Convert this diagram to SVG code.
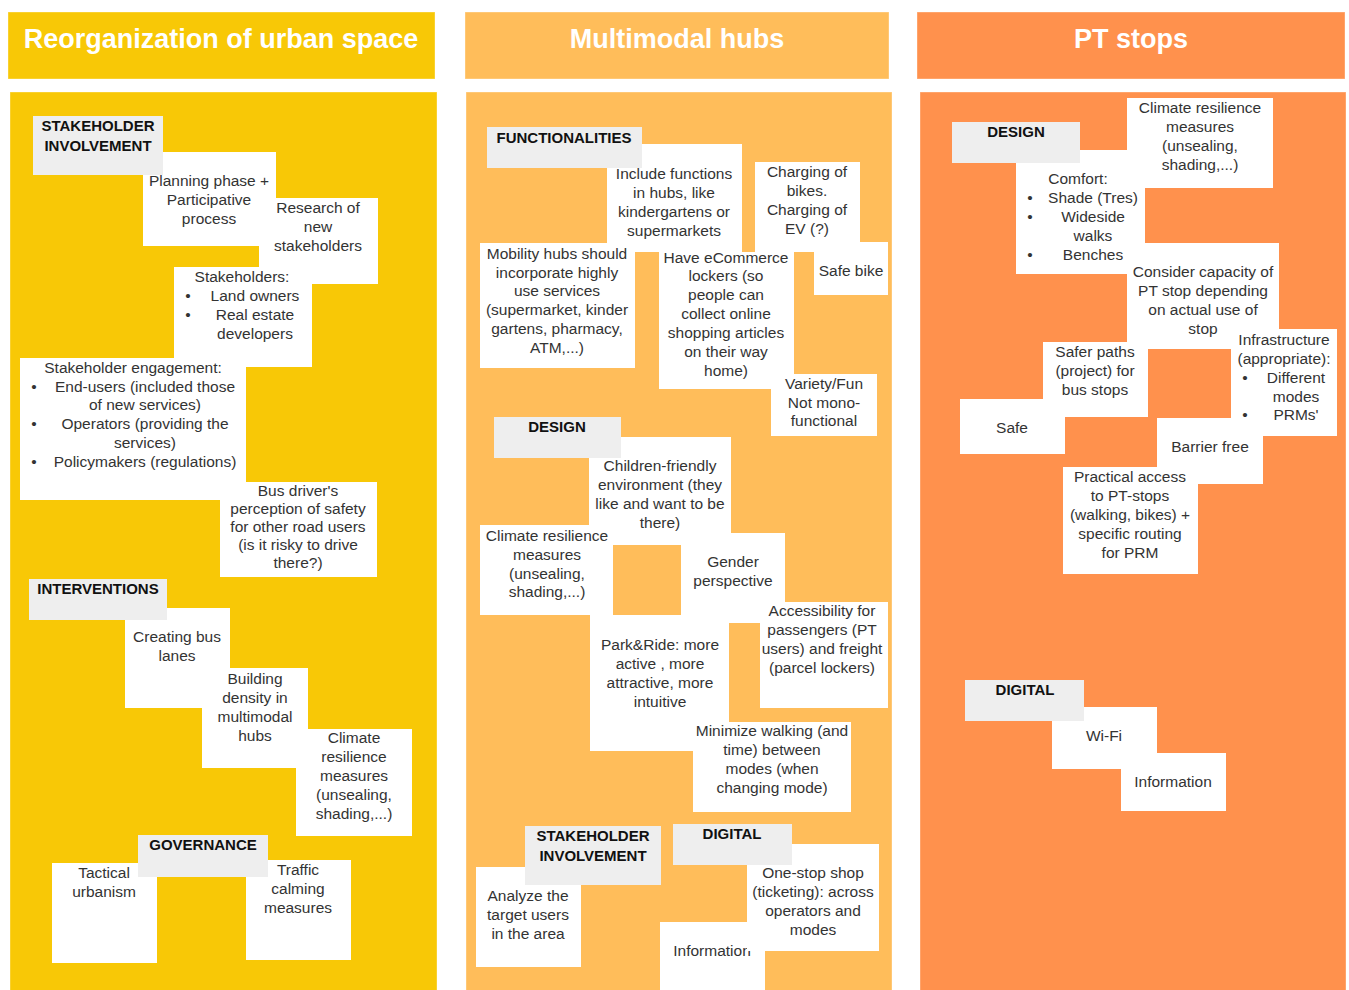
<svg xmlns="http://www.w3.org/2000/svg" width="1349" height="990" viewBox="0 0 1349 990">
<style>
.bg{fill:#ffffff}
.c1{fill:#F8C806}
.c2{fill:#FFBD5A}
.c3{fill:#FF914D}
.edge{stroke:#ffffff;stroke-opacity:0.35;stroke-width:1}
.n{fill:#ffffff}
.g{fill:#EEEEEE}
.h{font-family:"Liberation Sans",Arial,sans-serif;font-weight:bold;font-size:27px;fill:#ffffff;text-anchor:middle}
.t{font-family:"Liberation Sans",Arial,sans-serif;font-size:15.5px;fill:#333333;text-anchor:middle}
.b{font-family:"Liberation Sans",Arial,sans-serif;font-weight:bold;font-size:15px;fill:#111111;text-anchor:middle}
</style>
<rect class="bg" x="0" y="0" width="1349" height="990"/>

<g id="column-urban-space">
  <rect class="c1 edge" x="8" y="12" width="427" height="67"/>
  <text class="h" x="221" y="48">Reorganization of urban space</text>
  <rect class="c1 edge" x="10" y="92" width="427" height="900"/>
</g>
<g id="column-multimodal-hubs">
  <rect class="c2 edge" x="465" y="12" width="424" height="67"/>
  <text class="h" x="677" y="48">Multimodal hubs</text>
  <rect class="c2 edge" x="466" y="92" width="426" height="900"/>
</g>
<g id="column-pt-stops">
  <rect class="c3 edge" x="917" y="12" width="428" height="67"/>
  <text class="h" x="1131" y="48">PT stops</text>
  <rect class="c3 edge" x="920" y="92" width="426" height="900"/>
</g>

<g id="connectors"></g>

<!-- Column 1 -->
<g id="n-planning">
  <rect class="n" x="143" y="152" width="133" height="94"/>
  <text class="t" x="209" y="186">Planning phase +</text>
  <text class="t" x="209" y="205">Participative</text>
  <text class="t" x="209" y="224">process</text>
</g>
<g id="l-stakeholder-involvement-1">
  <rect class="g" x="33" y="116" width="130" height="59"/>
  <text class="b" x="98" y="131">STAKEHOLDER</text>
  <text class="b" x="98" y="151">INVOLVEMENT</text>
</g>
<g id="n-research">
  <rect class="n" x="259" y="198" width="119" height="86"/>
  <text class="t" x="318" y="213">Research of</text>
  <text class="t" x="318" y="232">new</text>
  <text class="t" x="318" y="251">stakeholders</text>
</g>
<g id="n-stakeholders">
  <rect class="n" x="174" y="267" width="138" height="100"/>
  <text class="t" x="242" y="282">Stakeholders:</text>
  <text class="t" x="188" y="301">•</text>
  <text class="t" x="255" y="301">Land owners</text>
  <text class="t" x="188" y="320">•</text>
  <text class="t" x="255" y="320">Real estate</text>
  <text class="t" x="255" y="339">developers</text>
</g>
<g id="n-engagement">
  <rect class="n" x="20" y="358" width="226" height="142"/>
  <text class="t" x="133" y="373">Stakeholder engagement:</text>
  <text class="t" x="34" y="392">•</text>
  <text class="t" x="145" y="392">End-users (included those</text>
  <text class="t" x="145" y="410">of new services)</text>
  <text class="t" x="34" y="429">•</text>
  <text class="t" x="145" y="429">Operators (providing the</text>
  <text class="t" x="145" y="448">services)</text>
  <text class="t" x="34" y="467">•</text>
  <text class="t" x="145" y="467">Policymakers (regulations)</text>
</g>
<g id="n-busdriver">
  <rect class="n" x="220" y="482" width="157" height="95"/>
  <text class="t" x="298" y="496">Bus driver's</text>
  <text class="t" x="298" y="514">perception of safety</text>
  <text class="t" x="298" y="532">for other road users</text>
  <text class="t" x="298" y="550">(is it risky to drive</text>
  <text class="t" x="298" y="568">there?)</text>
</g>
<g id="n-buslanes">
  <rect class="n" x="125" y="608" width="105" height="100"/>
  <text class="t" x="177" y="642">Creating bus</text>
  <text class="t" x="177" y="661">lanes</text>
</g>
<g id="l-interventions">
  <rect class="g" x="29" y="579" width="138" height="41"/>
  <text class="b" x="98" y="594">INTERVENTIONS</text>
</g>
<g id="n-density">
  <rect class="n" x="202" y="668" width="106" height="100"/>
  <text class="t" x="255" y="684">Building</text>
  <text class="t" x="255" y="703">density in</text>
  <text class="t" x="255" y="722">multimodal</text>
  <text class="t" x="255" y="741">hubs</text>
</g>
<g id="n-climate-1">
  <rect class="n" x="296" y="729" width="116" height="107"/>
  <text class="t" x="354" y="743">Climate</text>
  <text class="t" x="354" y="762">resilience</text>
  <text class="t" x="354" y="781">measures</text>
  <text class="t" x="354" y="800">(unsealing,</text>
  <text class="t" x="354" y="819">shading,...)</text>
</g>
<g id="n-tactical">
  <rect class="n" x="52" y="863" width="105" height="100"/>
  <text class="t" x="104" y="878">Tactical</text>
  <text class="t" x="104" y="897">urbanism</text>
</g>
<g id="n-traffic">
  <rect class="n" x="246" y="860" width="105" height="100"/>
  <text class="t" x="298" y="875">Traffic</text>
  <text class="t" x="298" y="894">calming</text>
  <text class="t" x="298" y="913">measures</text>
</g>
<g id="l-governance">
  <rect class="g" x="138" y="835" width="130" height="42"/>
  <text class="b" x="203" y="850">GOVERNANCE</text>
</g>

<!-- Column 2 -->
<g id="n-include">
  <rect class="n" x="607" y="144" width="135" height="108"/>
  <text class="t" x="674" y="179">Include functions</text>
  <text class="t" x="674" y="198">in hubs, like</text>
  <text class="t" x="674" y="217">kindergartens or</text>
  <text class="t" x="674" y="236">supermarkets</text>
</g>
<g id="l-functionalities">
  <rect class="g" x="487" y="127" width="155" height="41"/>
  <text class="b" x="564" y="143">FUNCTIONALITIES</text>
</g>
<g id="n-charging">
  <rect class="n" x="755" y="162" width="105" height="90"/>
  <text class="t" x="807" y="177">Charging of</text>
  <text class="t" x="807" y="196">bikes.</text>
  <text class="t" x="807" y="215">Charging of</text>
  <text class="t" x="807" y="234">EV (?)</text>
</g>
<g id="n-safebike">
  <rect class="n" x="814" y="242" width="74" height="53"/>
  <text class="t" x="851" y="276">Safe bike</text>
</g>
<g id="n-mobility">
  <rect class="n" x="480" y="243" width="155" height="125"/>
  <text class="t" x="557" y="259">Mobility hubs should</text>
  <text class="t" x="557" y="278">incorporate highly</text>
  <text class="t" x="557" y="296">use services</text>
  <text class="t" x="557" y="315">(supermarket, kinder</text>
  <text class="t" x="557" y="334">gartens, pharmacy,</text>
  <text class="t" x="557" y="353">ATM,...)</text>
</g>
<g id="n-ecommerce">
  <rect class="n" x="659" y="252" width="135" height="137"/>
  <text class="t" x="726" y="263">Have eCommerce</text>
  <text class="t" x="726" y="281">lockers (so</text>
  <text class="t" x="726" y="300">people can</text>
  <text class="t" x="726" y="319">collect online</text>
  <text class="t" x="726" y="338">shopping articles</text>
  <text class="t" x="726" y="357">on their way</text>
  <text class="t" x="726" y="376">home)</text>
</g>
<g id="n-variety">
  <rect class="n" x="771" y="374" width="106" height="62"/>
  <text class="t" x="824" y="389">Variety/Fun</text>
  <text class="t" x="824" y="408">Not mono-</text>
  <text class="t" x="824" y="426">functional</text>
</g>
<g id="n-children">
  <rect class="n" x="589" y="437" width="142" height="108"/>
  <text class="t" x="660" y="471">Children-friendly</text>
  <text class="t" x="660" y="490">environment (they</text>
  <text class="t" x="660" y="509">like and want to be</text>
  <text class="t" x="660" y="528">there)</text>
</g>
<g id="l-design-2">
  <rect class="g" x="494" y="417" width="127" height="41"/>
  <text class="b" x="557" y="432">DESIGN</text>
</g>
<g id="n-climate-2">
  <rect class="n" x="480" y="525" width="133" height="90"/>
  <text class="t" x="547" y="541">Climate resilience</text>
  <text class="t" x="547" y="560">measures</text>
  <text class="t" x="547" y="579">(unsealing,</text>
  <text class="t" x="547" y="597">shading,...)</text>
</g>
<g id="n-gender">
  <rect class="n" x="681" y="533" width="104" height="90"/>
  <text class="t" x="733" y="567">Gender</text>
  <text class="t" x="733" y="586">perspective</text>
</g>
<g id="n-parkride">
  <rect class="n" x="590" y="615" width="139" height="136"/>
  <text class="t" x="660" y="650">Park&amp;Ride: more</text>
  <text class="t" x="660" y="669">active , more</text>
  <text class="t" x="660" y="688">attractive, more</text>
  <text class="t" x="660" y="707">intuitive</text>
</g>
<g id="n-accessibility">
  <rect class="n" x="760" y="602" width="128" height="106"/>
  <text class="t" x="822" y="616">Accessibility for</text>
  <text class="t" x="822" y="635">passengers (PT</text>
  <text class="t" x="822" y="654">users) and freight</text>
  <text class="t" x="822" y="673">(parcel lockers)</text>
</g>
<g id="n-minimize">
  <rect class="n" x="693" y="722" width="158" height="90"/>
  <text class="t" x="772" y="736">Minimize walking (and</text>
  <text class="t" x="772" y="755">time) between</text>
  <text class="t" x="772" y="774">modes (when</text>
  <text class="t" x="772" y="793">changing mode)</text>
</g>
<g id="n-analyze">
  <rect class="n" x="476" y="867" width="105" height="100"/>
  <text class="t" x="528" y="901">Analyze the</text>
  <text class="t" x="528" y="920">target users</text>
  <text class="t" x="528" y="939">in the area</text>
</g>
<g id="l-stakeholder-involvement-2">
  <rect class="g" x="525" y="826" width="136" height="59"/>
  <text class="b" x="593" y="841">STAKEHOLDER</text>
  <text class="b" x="593" y="861">INVOLVEMENT</text>
</g>
<g id="n-information-2">
  <rect class="n" x="660" y="922" width="105" height="70"/>
  <text class="t" x="712" y="956">Information</text>
</g>
<g id="n-onestop">
  <rect class="n" x="747" y="844" width="132" height="107"/>
  <text class="t" x="813" y="878">One-stop shop</text>
  <text class="t" x="813" y="897">(ticketing): across</text>
  <text class="t" x="813" y="916">operators and</text>
  <text class="t" x="813" y="935">modes</text>
</g>
<g id="l-digital-2">
  <rect class="g" x="673" y="824" width="119" height="41"/>
  <text class="b" x="732" y="839">DIGITAL</text>
</g>

<!-- Column 3 -->
<g id="n-comfort">
  <rect class="n" x="1016" y="150" width="129" height="124"/>
  <text class="t" x="1078" y="184">Comfort:</text>
  <text class="t" x="1030" y="203">•</text>
  <text class="t" x="1093" y="203">Shade (Tres)</text>
  <text class="t" x="1030" y="222">•</text>
  <text class="t" x="1093" y="222">Wideside</text>
  <text class="t" x="1093" y="241">walks</text>
  <text class="t" x="1030" y="260">•</text>
  <text class="t" x="1093" y="260">Benches</text>
</g>
<g id="n-climate-3">
  <rect class="n" x="1127" y="98" width="146" height="90"/>
  <text class="t" x="1200" y="113">Climate resilience</text>
  <text class="t" x="1200" y="132">measures</text>
  <text class="t" x="1200" y="151">(unsealing,</text>
  <text class="t" x="1200" y="170">shading,...)</text>
</g>
<g id="l-design-3">
  <rect class="g" x="952" y="122" width="128" height="41"/>
  <text class="b" x="1016" y="137">DESIGN</text>
</g>
<g id="n-capacity">
  <rect class="n" x="1127" y="243" width="152" height="106"/>
  <text class="t" x="1203" y="277">Consider capacity of</text>
  <text class="t" x="1203" y="296">PT stop depending</text>
  <text class="t" x="1203" y="315">on actual use of</text>
  <text class="t" x="1203" y="334">stop</text>
</g>
<g id="n-infrastructure">
  <rect class="n" x="1231" y="329" width="106" height="107"/>
  <text class="t" x="1284" y="345">Infrastructure</text>
  <text class="t" x="1284" y="364">(appropriate):</text>
  <text class="t" x="1245" y="383">•</text>
  <text class="t" x="1296" y="383">Different</text>
  <text class="t" x="1296" y="402">modes</text>
  <text class="t" x="1245" y="420">•</text>
  <text class="t" x="1296" y="420">PRMs'</text>
</g>
<g id="n-saferpaths">
  <rect class="n" x="1043" y="342" width="105" height="75"/>
  <text class="t" x="1095" y="357">Safer paths</text>
  <text class="t" x="1095" y="376">(project) for</text>
  <text class="t" x="1095" y="395">bus stops</text>
</g>
<g id="n-safe">
  <rect class="n" x="960" y="399" width="105" height="55"/>
  <text class="t" x="1012" y="433">Safe</text>
</g>
<g id="n-barrierfree">
  <rect class="n" x="1157" y="418" width="106" height="66"/>
  <text class="t" x="1210" y="452">Barrier free</text>
</g>
<g id="n-practical">
  <rect class="n" x="1063" y="467" width="135" height="107"/>
  <text class="t" x="1130" y="482">Practical access</text>
  <text class="t" x="1130" y="501">to PT-stops</text>
  <text class="t" x="1130" y="520">(walking, bikes) +</text>
  <text class="t" x="1130" y="539">specific routing</text>
  <text class="t" x="1130" y="558">for PRM</text>
</g>
<g id="n-wifi">
  <rect class="n" x="1052" y="707" width="105" height="62"/>
  <text class="t" x="1104" y="741">Wi-Fi</text>
</g>
<g id="l-digital-3">
  <rect class="g" x="965" y="680" width="119" height="41"/>
  <text class="b" x="1025" y="695">DIGITAL</text>
</g>
<g id="n-information-3">
  <rect class="n" x="1121" y="753" width="105" height="58"/>
  <text class="t" x="1173" y="787">Information</text>
</g>
</svg>
